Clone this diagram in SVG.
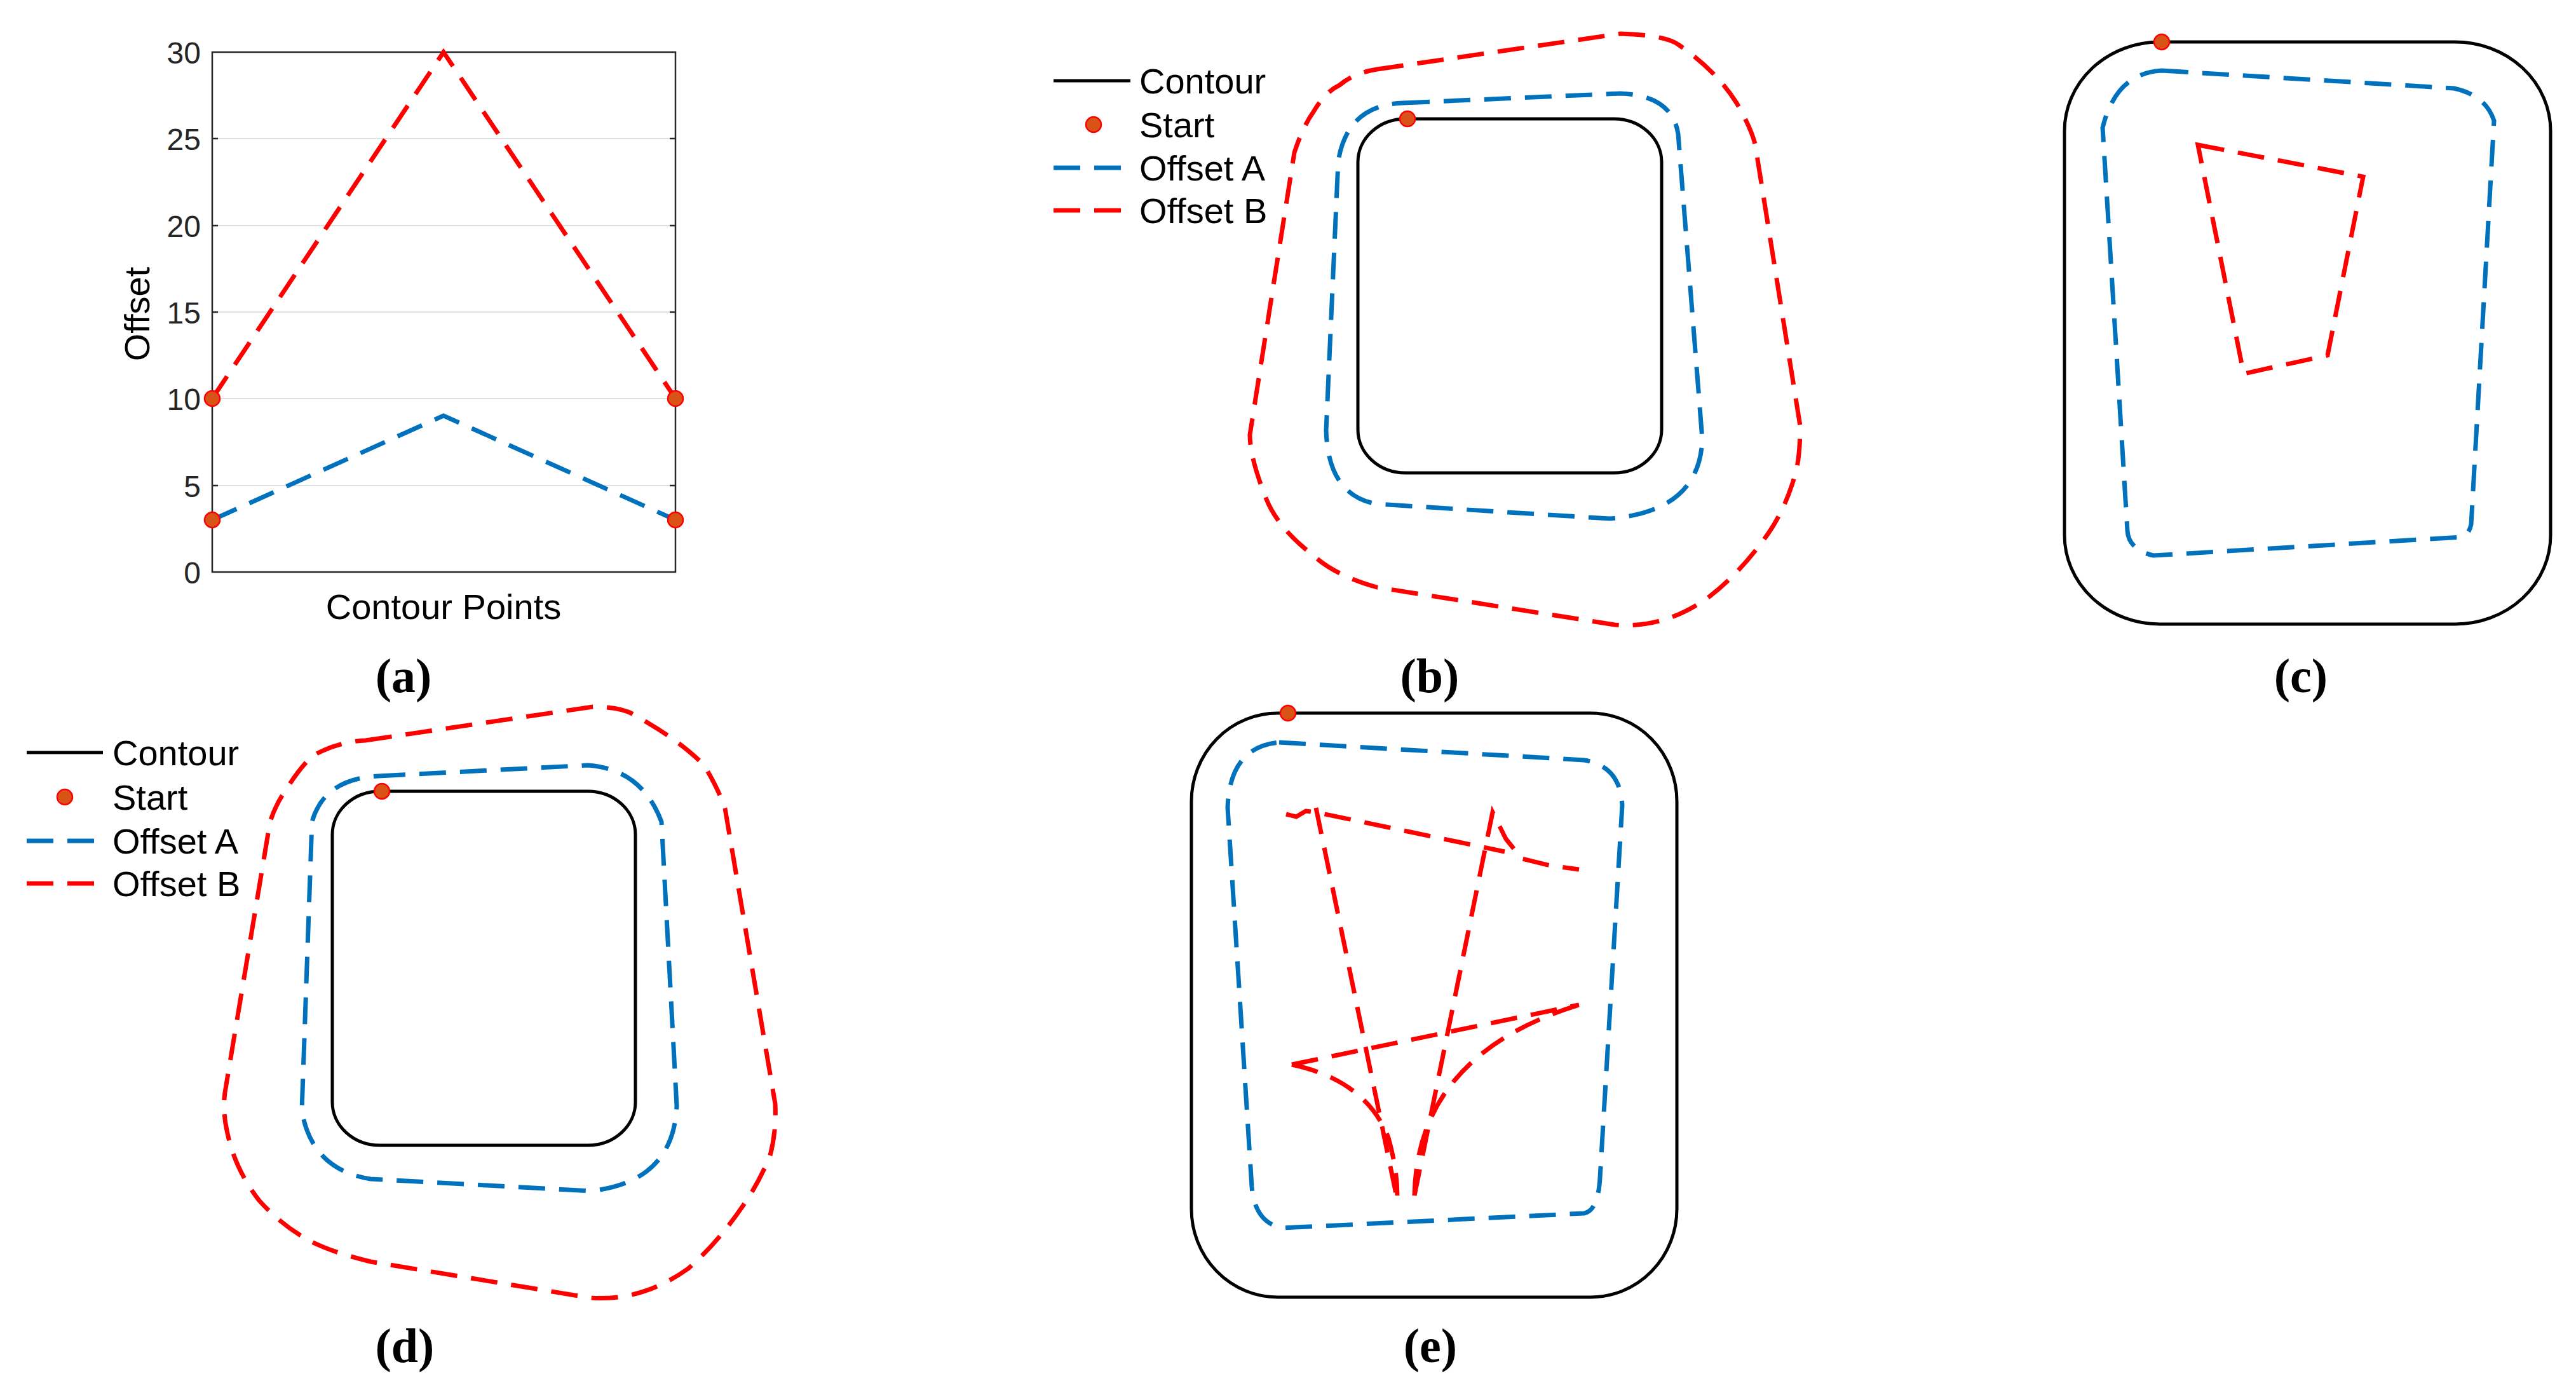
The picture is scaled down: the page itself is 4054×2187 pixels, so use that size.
<svg xmlns="http://www.w3.org/2000/svg" width="4054" height="2187" viewBox="0 0 4054 2187">
<style>
.ct{fill:none;stroke:#000;stroke-width:5}
.oa{fill:none;stroke:#0072bd;stroke-width:7;stroke-dasharray:42 22}
.ob{fill:none;stroke:#ff0000;stroke-width:7;stroke-dasharray:42 22}
.st{fill:#d95319;stroke:#ff0000;stroke-width:2.5}
.t{font-family:"Liberation Sans",Arial,sans-serif;font-size:56px;fill:#000}
.tk{font-family:"Liberation Sans",Arial,sans-serif;font-size:48px;fill:#262626;text-anchor:end}
.lb{font-family:"Liberation Serif","Times New Roman",serif;font-size:76px;font-weight:bold;text-anchor:middle;fill:#000}
.gr{stroke:#e0e0e0;stroke-width:2}
</style>
<rect width="4054" height="2187" fill="#fff"/>
<g id="panel-a">
<g class="gr"><line x1="334" y1="218" x2="1063" y2="218"/><line x1="334" y1="355" x2="1063" y2="355"/><line x1="334" y1="491" x2="1063" y2="491"/><line x1="334" y1="627" x2="1063" y2="627"/><line x1="334" y1="764" x2="1063" y2="764"/></g>
<rect x="334" y="82" width="729" height="818" fill="none" stroke="#262626" stroke-width="2.5"/>
<g stroke="#262626" stroke-width="2.5"><path d="M334 218h9M334 355h9M334 491h9M334 627h9M334 764h9M1063 218h-9M1063 355h-9M1063 491h-9M1063 627h-9M1063 764h-9"/></g>
<g class="tk"><text x="316" y="100">30</text><text x="316" y="236">25</text><text x="316" y="373">20</text><text x="316" y="509">15</text><text x="316" y="645">10</text><text x="316" y="782">5</text><text x="316" y="918">0</text></g>
<text class="t" text-anchor="middle" transform="translate(235,494) rotate(-90)" fill="#262626">Offset</text>
<text class="t" x="698" y="974" text-anchor="middle" fill="#262626">Contour Points</text>
<polyline class="ob" points="334,627 698,82 1063,627"/>
<polyline class="oa" points="334,818 698,654 1063,818"/>
<circle class="st" cx="334" cy="627" r="12"/><circle class="st" cx="1063" cy="627" r="12"/><circle class="st" cx="334" cy="818" r="12"/><circle class="st" cx="1063" cy="818" r="12"/>
<text class="lb" x="635" y="1089">(a)</text>
</g>
<g id="panel-b">
<line x1="1658" y1="127" x2="1779" y2="127" class="ct" stroke-width="4"/>
<circle class="st" cx="1721" cy="196" r="12"/>
<line x1="1658" y1="264" x2="1779" y2="264" class="oa"/>
<line x1="1658" y1="331" x2="1779" y2="331" class="ob"/>
<text class="t" x="1793" y="147">Contour</text><text class="t" x="1793" y="216">Start</text><text class="t" x="1793" y="284">Offset A</text><text class="t" x="1793" y="351">Offset B</text>
<rect class="ct" x="2137" y="187" width="478" height="557" rx="75" ry="68"/>
<path class="oa" d="M2208 162 L2550 147 Q2632 150 2641 211 L2679 691 Q2675 805 2533 816 L2167 793 Q2090 780 2087 677 L2106 254 Q2120 165 2208 162 Z"/>
<path class="ob" d="M2167 109 L2550 53 Q2620 55 2641 70 Q2700 110 2733 162 Q2755 200 2762 226 L2833 670 Q2833 720 2825 747 Q2810 800 2783 839 Q2740 900 2691 938 Q2620 990 2541 983 L2167 924 Q2100 905 2067 874 Q2010 830 1992 783 Q1967 720 1967 684 L2037 240 Q2050 200 2067 176 Q2085 145 2108 134 Q2130 115 2167 109 Z"/>
<circle class="st" cx="2215" cy="187" r="12"/>
<text class="lb" x="2250" y="1089">(b)</text>
</g>
<g id="panel-c">
<rect class="ct" x="3249" y="66" width="765" height="916" rx="150" ry="140"/>
<path class="oa" d="M3402 111 L3862 139 Q3912 150 3925 190 L3889 825 Q3885 843 3873 845 L3389 874 Q3350 865 3348 835 L3309 201 Q3330 115 3402 111 Z"/>
<polygon class="ob" points="3459,228 3719,278 3663,559 3531,588"/>
<circle class="st" cx="3402" cy="66" r="12"/>
<text class="lb" x="3621" y="1089">(c)</text>
</g>
<g id="panel-d">
<line x1="42" y1="1184" x2="162" y2="1184" class="ct" stroke-width="4"/>
<circle class="st" cx="102" cy="1254" r="12"/>
<line x1="42" y1="1323" x2="162" y2="1323" class="oa"/>
<line x1="42" y1="1390" x2="162" y2="1390" class="ob"/>
<text class="t" x="177" y="1204">Contour</text><text class="t" x="177" y="1274">Start</text><text class="t" x="177" y="1343">Offset A</text><text class="t" x="177" y="1410">Offset B</text>
<rect class="ct" x="523" y="1245" width="477" height="557" rx="75" ry="68"/>
<path class="oa" d="M596 1221 L925 1204 Q1010 1210 1041 1293 L1065 1740 Q1060 1860 929 1874 L583 1855 Q490 1840 475 1747 L491 1293 Q510 1225 596 1221 Z"/>
<path class="ob" d="M575 1165 L933 1112 Q980 1112 1000 1126 Q1070 1165 1108 1204 Q1130 1240 1141 1272 L1220 1737 Q1222 1780 1212 1818 Q1195 1860 1170 1896 Q1130 1955 1083 1996 Q1010 2048 929 2042 L583 1985 Q520 1970 483 1950 Q440 1925 408 1889 Q370 1840 358 1783 Q350 1750 354 1719 L425 1293 Q435 1263 450 1243 Q470 1210 491 1190 Q530 1167 575 1165 Z"/>
<circle class="st" cx="601" cy="1245" r="12"/>
<text class="lb" x="637" y="2143">(d)</text>
</g>
<g id="panel-e">
<rect class="ct" x="1875" y="1122" width="764" height="919" rx="136" ry="139"/>
<path class="oa" d="M2013 1168 L2493 1196 Q2550 1205 2553 1267 L2518 1853 Q2515 1905 2493 1909 L2019 1932 Q1975 1925 1970 1867 L1932 1271 Q1935 1175 2013 1168 Z"/>
<g class="ob">
<polyline points="2024,1281 2040,1285 2055,1276 2071,1278 2368,1340"/>
<line x1="2071" y1="1271" x2="2199" y2="1888"/>
<polyline points="2226,1881 2349,1278 2370,1320 2395,1351 2440,1362 2485,1368"/>
<line x1="2033" y1="1675" x2="2485" y2="1581"/>
<path d="M2033 1675 Q2150 1700 2185 1790 Q2199 1840 2199 1881"/>
<path d="M2226 1881 Q2230 1660 2485 1581"/>
</g>
<circle class="st" cx="2027" cy="1122" r="12"/>
<text class="lb" x="2251" y="2143">(e)</text>
</g>
<g id="connectors"/>
</svg>
